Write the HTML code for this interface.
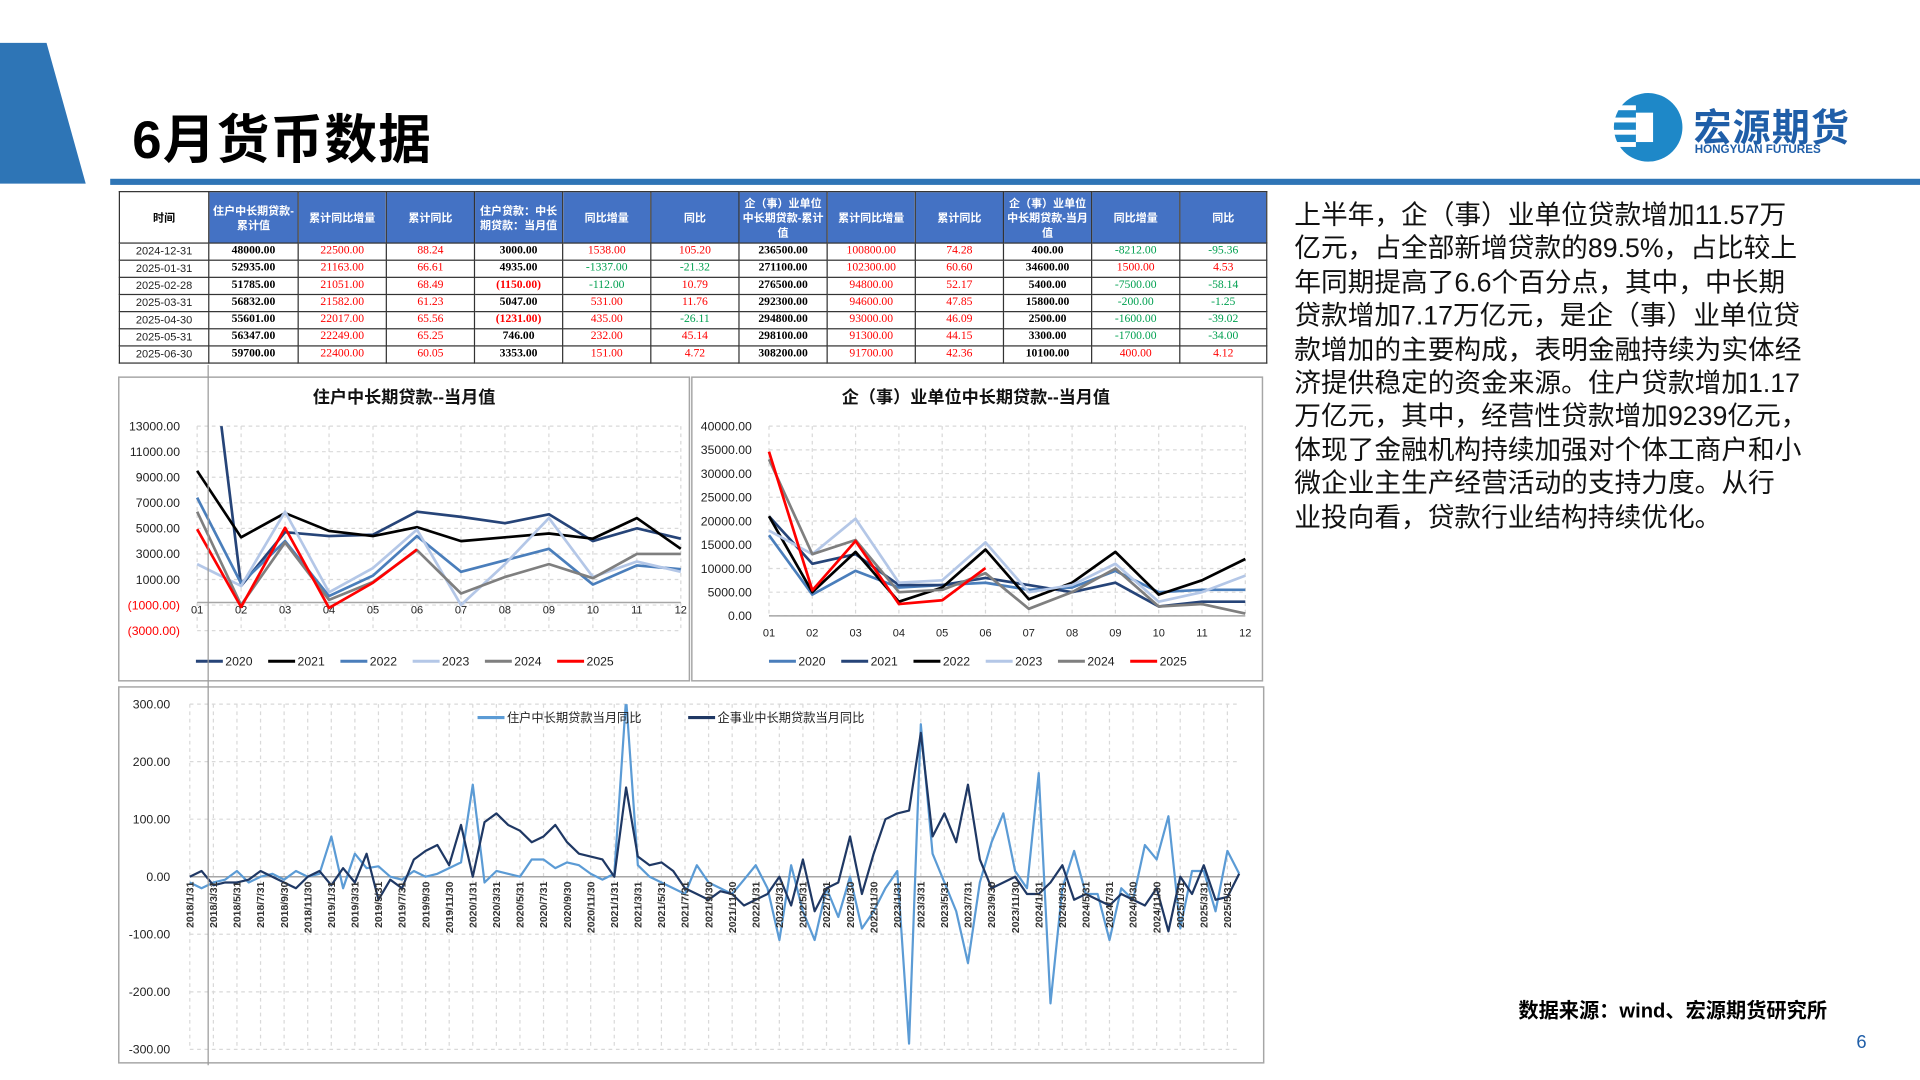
<!DOCTYPE html>
<html><head><meta charset="utf-8">
<style>
html,body{margin:0;padding:0;background:#fff;}
body{width:1920px;height:1080px;overflow:hidden;}
#stage{position:absolute;left:0;top:0;width:1568px;height:882px;transform:scale(1.22449);transform-origin:0 0;font-family:"Liberation Sans","Noto Sans CJK SC",sans-serif;}
.abs{position:absolute;}
table{border-collapse:collapse;table-layout:fixed;font-family:"Liberation Serif","Noto Serif CJK SC",serif;}
td,th{border:1px solid #333;padding:0;text-align:center;font-size:9.5px;height:13px;line-height:13px;overflow:hidden;white-space:nowrap;}
th{background:#4472c4;color:#fff;font-family:"Liberation Sans","Noto Sans CJK SC",sans-serif;font-size:9px;line-height:12px;height:41px;font-weight:bold;white-space:normal;padding:0 2px;}
td.d{font-family:"Liberation Sans",sans-serif;color:#222;font-size:9px;}
td.b{font-weight:bold;color:#000;}
td.r{color:#ff0000;}
td.g{color:#00a050;}
td.rb{color:#ff0000;font-weight:bold;}
.para{font-family:"Liberation Sans","Noto Sans CJK SC",sans-serif;font-size:21.8px;line-height:27.4px;color:#111;white-space:nowrap;}
.para div{height:27.4px;}
</style></head>
<body>
<div id="stage">
  <svg class="abs" style="left:0;top:0" width="1568" height="160">
    <polygon points="0,35 38,35 70,150 0,150" fill="#2e75b6"/>
    <rect x="90" y="146" width="1478" height="5" fill="#2e75b6"/>
    <g>
      <circle cx="1346" cy="104" r="28" fill="#1e88c8"/>
      <rect x="1316" y="86" width="20" height="4" fill="#fff"/>
      <rect x="1316" y="96" width="20" height="4" fill="#fff"/>
      <rect x="1316" y="106" width="20" height="4" fill="#fff"/>
      <rect x="1316" y="116" width="20" height="4" fill="#fff"/>
      <rect x="1336" y="92" width="14" height="24" fill="#fff"/>
    </g>
  </svg>
  <div class="abs" style="left:108px;top:80px;font-size:43px;font-weight:bold;color:#000;letter-spacing:1px">6月货币数据</div>
  <div class="abs" style="left:1383px;top:79px;font-size:31px;font-weight:bold;color:#1f5ea8;letter-spacing:1px">宏源期货</div>
  <div class="abs" style="left:1384px;top:117px;font-size:9.5px;font-weight:bold;color:#1f5ea8">HONGYUAN FUTURES</div>

  <table class="abs" style="left:97px;top:156px;width:937px">
    <colgroup><col style="width:73px"><col style="width:73px"><col style="width:72px"><col style="width:72px"><col style="width:72px"><col style="width:72px"><col style="width:72px"><col style="width:72px"><col style="width:72px"><col style="width:72px"><col style="width:72px"><col style="width:72px"><col style="width:71px"></colgroup>
    <tr>
      <th style="background:#fff;color:#000">时间</th><th>住户中长期贷款-累计值</th><th>累计同比增量</th><th>累计同比</th><th>住户贷款：中长期贷款：当月值</th><th>同比增量</th><th>同比</th><th>企（事）业单位中长期贷款-累计值</th><th>累计同比增量</th><th>累计同比</th><th>企（事）业单位中长期贷款-当月值</th><th>同比增量</th><th>同比</th>
    </tr>
    <tr><td class="d">2024-12-31</td><td class="b">48000.00</td><td class="r">22500.00</td><td class="r">88.24</td><td class="b">3000.00</td><td class="r">1538.00</td><td class="r">105.20</td><td class="b">236500.00</td><td class="r">100800.00</td><td class="r">74.28</td><td class="b">400.00</td><td class="g">-8212.00</td><td class="g">-95.36</td></tr>
    <tr><td class="d">2025-01-31</td><td class="b">52935.00</td><td class="r">21163.00</td><td class="r">66.61</td><td class="b">4935.00</td><td class="g">-1337.00</td><td class="g">-21.32</td><td class="b">271100.00</td><td class="r">102300.00</td><td class="r">60.60</td><td class="b">34600.00</td><td class="r">1500.00</td><td class="r">4.53</td></tr>
    <tr><td class="d">2025-02-28</td><td class="b">51785.00</td><td class="r">21051.00</td><td class="r">68.49</td><td class="rb">(1150.00)</td><td class="g">-112.00</td><td class="r">10.79</td><td class="b">276500.00</td><td class="r">94800.00</td><td class="r">52.17</td><td class="b">5400.00</td><td class="g">-7500.00</td><td class="g">-58.14</td></tr>
    <tr><td class="d">2025-03-31</td><td class="b">56832.00</td><td class="r">21582.00</td><td class="r">61.23</td><td class="b">5047.00</td><td class="r">531.00</td><td class="r">11.76</td><td class="b">292300.00</td><td class="r">94600.00</td><td class="r">47.85</td><td class="b">15800.00</td><td class="g">-200.00</td><td class="g">-1.25</td></tr>
    <tr><td class="d">2025-04-30</td><td class="b">55601.00</td><td class="r">22017.00</td><td class="r">65.56</td><td class="rb">(1231.00)</td><td class="r">435.00</td><td class="g">-26.11</td><td class="b">294800.00</td><td class="r">93000.00</td><td class="r">46.09</td><td class="b">2500.00</td><td class="g">-1600.00</td><td class="g">-39.02</td></tr>
    <tr><td class="d">2025-05-31</td><td class="b">56347.00</td><td class="r">22249.00</td><td class="r">65.25</td><td class="b">746.00</td><td class="r">232.00</td><td class="r">45.14</td><td class="b">298100.00</td><td class="r">91300.00</td><td class="r">44.15</td><td class="b">3300.00</td><td class="g">-1700.00</td><td class="g">-34.00</td></tr>
    <tr><td class="d">2025-06-30</td><td class="b">59700.00</td><td class="r">22400.00</td><td class="r">60.05</td><td class="b">3353.00</td><td class="r">151.00</td><td class="r">4.72</td><td class="b">308200.00</td><td class="r">91700.00</td><td class="r">42.36</td><td class="b">10100.00</td><td class="r">400.00</td><td class="r">4.12</td></tr>
  </table>

  <div class="abs para" style="left:1057px;top:162px">
    <div>上半年，企（事）业单位贷款增加11.57万</div>
    <div>亿元，占全部新增贷款的89.5%，占比较上</div>
    <div>年同期提高了6.6个百分点，其中，中长期</div>
    <div>贷款增加7.17万亿元，是企（事）业单位贷</div>
    <div>款增加的主要构成，表明金融持续为实体经</div>
    <div>济提供稳定的资金来源。住户贷款增加1.17</div>
    <div>万亿元，其中，经营性贷款增加9239亿元，</div>
    <div>体现了金融机构持续加强对个体工商户和小</div>
    <div>微企业主生产经营活动的支持力度。从行</div>
    <div>业投向看，贷款行业结构持续优化。</div>
  </div>
  <div class="abs" style="left:1240px;top:812px;font-size:16.5px;font-weight:bold;color:#000">数据来源：wind、宏源期货研究所</div>
  <div class="abs" style="left:1516px;top:843px;font-size:15px;color:#1f5ea8">6</div>

  <svg id="charts" class="abs" style="left:0;top:0" width="1568" height="882"></svg>
</div>
<script>
// ---- Chart 1: household medium/long-term loans, monthly (by year) ----
const months = ["01","02","03","04","05","06","07","08","09","10","11","12"];
const hhTicks = [13000,11000,9000,7000,5000,3000,1000,-1000,-3000];
const hh2020 = [28400,500,4700,4400,4500,6300,5900,5400,6100,4000,5000,4200];
const hh2021 = [9500,4300,6200,4800,4400,5100,4000,4300,4600,4200,5800,3400];
const hh2022 = [7400,700,4000,-300,1300,4400,1600,2500,3400,600,2100,1800];
const hh2023 = [2200,500,6300,0,1900,4900,-1000,2200,5800,1200,2400,1600];
const hh2024 = [6300,-1000,3900,-600,800,3300,-100,1200,2200,1100,3000,3000];
const hh2025 = [4935,-1150,5047,-1231,746,3353];
// ---- Chart 2: enterprise medium/long-term loans, monthly ----
const entTicks = [40000,35000,30000,25000,20000,15000,10000,5000,0];
const en2020 = [17000,4500,9500,6000,6500,7000,5500,6000,9500,5000,5500,5500];
const en2021 = [21000,11000,13000,6500,6500,8000,6500,5000,7000,2000,3000,3000];
const en2022 = [21000,5000,13500,3000,6000,14000,3500,7000,13500,4500,7500,12000];
const en2023 = [18000,13000,20500,7000,7500,15500,5000,6500,11000,3000,5000,8500];
const en2024 = [33000,13000,16000,5000,5500,9000,1500,5000,10000,2000,2500,500];
const en2025 = [34600,5400,15800,2500,3300,10100];
// ---- Chart 3: YoY, monthly 2018/1 - 2025/6 ----
const yoyTicks = [300,200,100,0,-100,-200,-300];
const hhYoy = [-10,-20,-10,-5,10,-10,0,5,-5,10,0,5,
 70,-20,40,15,18,0,-5,10,0,5,15,25,
 160,-10,10,5,0,30,30,15,25,20,5,-5,
 5,310,20,0,-10,-20,-30,20,-10,-20,-30,-5,
 20,-20,-110,20,-60,-110,-20,-70,0,-90,-60,-20,
 10,-290,265,40,-10,-60,-150,-10,60,110,10,-20,
 180,-220,-20,45,-30,-30,-110,-20,-40,55,30,105,
 -90,10,10,-60,45,5];
const entYoy = [0,10,-15,-10,-10,-5,10,0,-10,-20,0,10,
 -15,15,-10,40,-40,-5,-20,30,45,55,20,90,
 0,95,110,90,80,60,70,90,60,40,35,30,
 0,155,35,20,25,10,-20,-30,-40,-25,-30,-50,
 -40,-30,0,-50,30,-60,-20,-10,70,-30,40,100,
 110,115,250,70,110,60,160,30,-20,-10,0,-30,
 -30,-10,20,-40,-30,-40,-50,-30,-40,-50,-20,-95,
 0,-30,20,-40,-35,5];

const NS="http://www.w3.org/2000/svg";
const root=document.getElementById('charts');
function mk(tag,attrs,parent){const e=document.createElementNS(NS,tag);for(const k in attrs)e.setAttribute(k,attrs[k]);(parent||root).appendChild(e);return e;}
function fmt(v){return v<0?"("+Math.abs(v).toFixed(2)+")":v.toFixed(2);}

const C={navy:"#264478",mid:"#4a7ebb",light:"#b4c7e7",gray:"#7f7f7f",black:"#000",red:"#ff0000"};

function frame(x,y,w,h,name){const r=mk('rect',{x:x,y:y,width:w,height:h,fill:'#fff',stroke:'#a6a6a6','stroke-width':1.2});}

function lineChart(o){
  const g=mk('g',{});
  
  
  const sx=i=>o.x0+(o.x1-o.x0)*i/(o.n-1);
  const sy=v=>o.y0+(o.vmax-v)/(o.vmax-o.vmin)*(o.y1-o.y0);
  const cid='clip'+o.name;
  const cp=mk('clipPath',{id:cid},g);mk('rect',{x:o.x0-2,y:o.y0,width:o.x1-o.x0+4,height:o.y1-o.y0+2},cp);
  o.ticks.forEach(t=>{
    const gl=mk('line',{x1:o.x0,x2:o.x1,y1:sy(t),y2:sy(t),stroke:'#d9d9d9','stroke-dasharray':'3,3'},g);
    
    const tl=mk('text',{x:o.x0-o.labGap,y:sy(t)+3.5,'text-anchor':'end','font-size':o.fs||10,fill:t<0&&o.redNeg?'#ff0000':'#222','font-family':'Liberation Sans, sans-serif'},g);
    tl.textContent=o.tickFmt(t);
    
  });
  for(let i=0;i<o.n;i+=o.vstep){
    const vl=mk('line',{x1:sx(i),x2:sx(i),y1:o.y0,y2:o.y1,stroke:'#d9d9d9','stroke-dasharray':'3,3'},g);
    
  }
  const ax=mk('line',{x1:o.x0,x2:o.x1,y1:sy(o.axisV),y2:sy(o.axisV),stroke:'#a6a6a6','stroke-width':1.2},g);
  
  if(o.xlabels){o.xlabels.forEach((l,i)=>{
    const t=mk('text',{x:sx(i),y:o.xlabY,'text-anchor':'middle','font-size':9,fill:'#222','font-family':'Liberation Sans, sans-serif'},g);
    t.textContent=l;
  });}
  o.series.forEach(s=>{
    const d=s.data.map((v,i)=>(i?'L':'M')+sx(i).toFixed(1)+','+sy(v).toFixed(1)).join(' ');
    const p=mk('path',{d:d,fill:'none',stroke:s.color,'stroke-width':s.w||2.2,'clip-path':'url(#'+cid+')','stroke-linejoin':'round'},g);
    
  });
  return {sx,sy,g};
}
function legend(items,x,y,gap){
  items.forEach((it,i)=>{
    const lx=x+i*gap;
    const l=mk('line',{x1:lx,x2:lx+22,y1:y,y2:y,stroke:it.color,'stroke-width':2.5});
    
    const t=mk('text',{x:lx+24,y:y+3.5,'font-size':10,fill:'#222','font-family':'Liberation Sans, Noto Sans CJK SC, sans-serif'});
    t.textContent=it.label;
  });
}
function title(txt,x,y,name){const t=mk('text',{x:x,y:y,'text-anchor':'middle','font-size':14,'font-weight':'bold',fill:'#111','font-family':'Liberation Sans, Noto Sans CJK SC, sans-serif'});t.textContent=txt;}

frame(97,308,466,248,'household-chart-frame');
title('住户中长期贷款--当月值',330,329,'household-chart-title');
lineChart({name:'household-chart',x0:161,x1:556,y0:348,y1:515,vmin:-3000,vmax:13000,n:12,vstep:1,ticks:hhTicks,tickFmt:fmt,labGap:14,redNeg:true,axisV:-800,xlabels:months,xlabY:501,
 series:[{label:'2020',data:hh2020,color:C.navy},{label:'2021',data:hh2021,color:C.black},{label:'2022',data:hh2022,color:C.mid},{label:'2023',data:hh2023,color:C.light},{label:'2024',data:hh2024,color:C.gray},{label:'2025',data:hh2025,color:C.red}]});
legend([{label:'2020',color:C.navy},{label:'2021',color:C.black},{label:'2022',color:C.mid},{label:'2023',color:C.light},{label:'2024',color:C.gray},{label:'2025',color:C.red}],160,540,59);

frame(565,308,466,248,'enterprise-chart-frame');
title('企（事）业单位中长期贷款--当月值',797,329,'enterprise-chart-title');
lineChart({name:'enterprise-chart',x0:628,x1:1017,y0:348,y1:503,vmin:0,vmax:40000,n:12,vstep:1,ticks:entTicks,tickFmt:fmt,labGap:14,axisV:0,xlabels:months,xlabY:520,
 series:[{label:'2020',data:en2020,color:C.mid},{label:'2021',data:en2021,color:C.navy},{label:'2022',data:en2022,color:C.black},{label:'2023',data:en2023,color:C.light},{label:'2024',data:en2024,color:C.gray},{label:'2025',data:en2025,color:C.red}]});
legend([{label:'2020',color:C.mid},{label:'2021',color:C.navy},{label:'2022',color:C.black},{label:'2023',color:C.light},{label:'2024',color:C.gray},{label:'2025',color:C.red}],628,540,59);

frame(97,561,935,307,'yoy-chart-frame');
const c3=lineChart({name:'yoy-chart',x0:155,x1:1012,y0:575,y1:857,vmin:-300,vmax:300,n:hhYoy.length,vstep:2,ticks:yoyTicks,tickFmt:v=>v.toFixed(2),labGap:16,fs:10,axisV:0,
 series:[{label:'household-yoy',data:hhYoy,color:'#5b9bd5',w:1.8},{label:'enterprise-yoy',data:entYoy,color:'#1f3864',w:1.8}]});
for(let i=0;i<hhYoy.length;i+=2){
  const y=2018+Math.floor(i/12), m=(i%12)+1;
  const dm=[31,28,31,30,31,30,31,31,30,31,30,31][m-1];
  const x=c3.sx(i)+3;
  const t=mk('text',{x:x,y:720,transform:'rotate(-90 '+x+' 720)','text-anchor':'end','font-size':8.5,'font-weight':'bold',fill:'#333','font-family':'Liberation Sans, sans-serif'});
  t.textContent=y+'/'+m+'/'+dm;
  
}
legend([{label:'住户中长期贷款当月同比',color:'#5b9bd5'}],390,586,0);
legend([{label:'企事业中长期贷款当月同比',color:'#1f3864'}],562,586,0);
const gv=mk('line',{x1:170,x2:170,y1:298,y2:870,stroke:'#999','stroke-width':1});

</script>
</body></html>
